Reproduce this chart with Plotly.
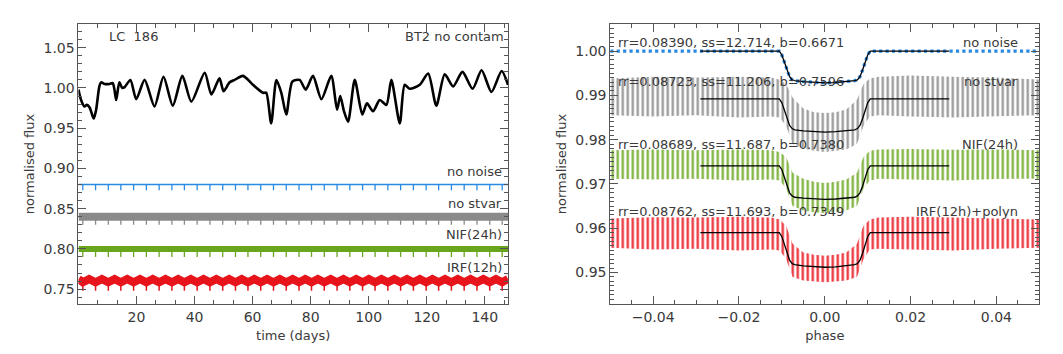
import plotly.graph_objects as go
from plotly.subplots import make_subplots

# ---- left panel: light curve LC 186 ----
# stellar variability
lc_time = [0.0, 0.9, 2.1, 2.9, 3.8, 4.9, 5.3, 6.1, 7.2, 7.8, 9.0, 10.7, 11.8, 12.4, 13.0,
           14.1, 15.1, 15.9, 17.9, 19.9, 22.8, 26.2, 29.3, 32.5, 35.8, 38.9, 43.5, 45.8,
           48.6, 50.0, 52.1, 53.8, 56.7, 60.1, 63.6, 64.7, 66.4, 68.2, 69.9, 71.6, 73.7,
           76.2, 78.3, 80.8, 83.7, 87.1, 89.1, 90.2, 91.5, 92.9, 95.2, 97.8, 99.4, 101.5,
           103.8, 106.1, 107.8, 110.7, 112.4, 114.1, 117.6, 120.5, 123.3, 126.2, 129.1,
           132.3, 135.8, 138.9, 142.3, 145.8, 148.0]
lc_flux = [0.998, 0.985, 0.977, 0.979, 0.976, 0.965, 0.962, 0.973, 1.002, 1.007, 1.005,
           1.005, 1.006, 0.998, 0.985, 1.007, 1.000, 1.001, 1.010, 0.986, 1.010, 0.977,
           1.014, 0.978, 1.015, 0.983, 1.019, 0.992, 1.012, 0.996, 1.007, 1.010, 1.015,
           1.004, 0.994, 0.994, 0.956, 1.010, 0.994, 0.967, 1.008, 1.010, 0.998, 1.015,
           0.986, 1.015, 0.973, 0.990, 0.971, 0.958, 1.010, 0.967, 0.981, 0.971, 0.985,
           0.979, 1.010, 0.956, 1.004, 0.999, 1.004, 1.018, 0.978, 1.017, 1.002, 1.020,
           0.999, 1.022, 0.995, 1.021, 1.004]

# transit epochs (ticks under the "no noise" line)
transit_times = [1.5, 5.9, 10.3, 14.6, 19.0, 23.4, 27.8, 32.2, 36.5, 40.9, 45.3, 49.7,
                 54.1, 58.4, 62.8, 67.2, 71.6, 76.0, 80.3, 84.7, 89.1, 93.5, 97.9, 102.2,
                 106.6, 111.0, 115.4, 119.8, 124.1, 128.5, 132.9, 137.3, 141.7, 146.0]

# offset series: level, bottom of transit spikes
nonoise_level, nonoise_dip = 0.880, 0.8728
nostvar_level, nostvar_dip = 0.840, 0.830
nif_level, nif_dip = 0.800, 0.790
irf_low, irf_high, irf_dip = 0.7585, 0.7625, 0.748

# ---- right panel: phase folded transits ----
env_phase = [-0.05, -0.04, -0.03, -0.02, -0.0125, -0.0105, -0.009, -0.0075, -0.005,
             -0.0025, 0.0, 0.0025, 0.005, 0.0075, 0.009, 0.0105, 0.0125, 0.02, 0.03,
             0.04, 0.05]
nostvar_top = [0.9938, 0.9942, 0.9940, 0.9942, 0.9940, 0.9935, 0.9925, 0.9895, 0.9870,
               0.9862, 0.9860, 0.9862, 0.9868, 0.9890, 0.9925, 0.9938, 0.9942, 0.9945,
               0.9942, 0.9940, 0.9936]
nostvar_bot = [0.9855, 0.9852, 0.9855, 0.9850, 0.9852, 0.9850, 0.9830, 0.9790, 0.9780,
               0.9775, 0.9772, 0.9775, 0.9778, 0.9790, 0.9830, 0.9852, 0.9855, 0.9852,
               0.9850, 0.9853, 0.9855]
nif_top = [0.9776, 0.9778, 0.9776, 0.9778, 0.9776, 0.9772, 0.9760, 0.9725, 0.9712,
           0.9705, 0.9702, 0.9705, 0.9710, 0.9725, 0.9760, 0.9775, 0.9778, 0.9779,
           0.9777, 0.9778, 0.9776]
nif_bot = [0.9712, 0.9710, 0.9712, 0.9708, 0.9710, 0.9708, 0.9690, 0.9650, 0.9640,
           0.9636, 0.9634, 0.9636, 0.9640, 0.9650, 0.9690, 0.9708, 0.9712, 0.9710,
           0.9708, 0.9711, 0.9712]
irf_top = [0.9622, 0.9625, 0.9624, 0.9626, 0.9624, 0.9620, 0.9605, 0.9565, 0.9545,
           0.9540, 0.9538, 0.9540, 0.9545, 0.9565, 0.9605, 0.9620, 0.9624, 0.9626,
           0.9624, 0.9622, 0.9620]
irf_bot = [0.9556, 0.9552, 0.9554, 0.9550, 0.9552, 0.9550, 0.9530, 0.9490, 0.9482,
           0.9480, 0.9478, 0.9480, 0.9482, 0.9490, 0.9530, 0.9552, 0.9554, 0.9552,
           0.9550, 0.9554, 0.9556]

model_phase = [-0.029, -0.0106, -0.0100, -0.0094, -0.0088, -0.0082, -0.0076, -0.0070,
               -0.005, -0.0025, 0.0, 0.0025, 0.005, 0.0070, 0.0076, 0.0082, 0.0088,
               0.0094, 0.0100, 0.0106, 0.029]
model_nonoise = [1.0, 1.0, 0.9991, 0.9975, 0.9957, 0.9942, 0.9935, 0.9933, 0.9931, 0.9929,
                 0.9928, 0.9929, 0.9931, 0.9933, 0.9935, 0.9942, 0.9957, 0.9975, 0.9991,
                 1.0, 1.0]
model_nostvar = [0.9892, 0.9892, 0.9883, 0.9866, 0.9847, 0.9832, 0.9825, 0.9822, 0.9820,
                 0.9818, 0.9817, 0.9818, 0.9820, 0.9822, 0.9825, 0.9832, 0.9847, 0.9866,
                 0.9883, 0.9892, 0.9892]
model_nif = [0.9741, 0.9741, 0.9732, 0.9715, 0.9695, 0.9680, 0.9673, 0.9670, 0.9668,
             0.9666, 0.9665, 0.9666, 0.9668, 0.9670, 0.9673, 0.9680, 0.9695, 0.9715,
             0.9732, 0.9741, 0.9741]
model_irf = [0.9590, 0.9590, 0.9581, 0.9563, 0.9543, 0.9528, 0.9520, 0.9518, 0.9515,
             0.9513, 0.9512, 0.9513, 0.9515, 0.9518, 0.9520, 0.9528, 0.9543, 0.9563,
             0.9581, 0.9590, 0.9590]

fit_labels = ["rr=0.08390, ss=12.714, b=0.6671", "rr=0.08723, ss=11.206, b=0.7596",
              "rr=0.08689, ss=11.687, b=0.7380", "rr=0.08762, ss=11.693, b=0.7349"]
fit_names = ["no noise", "no stvar", "NIF(24h)", "IRF(12h)+polyn"]
fit_label_y = [1.0019, 0.9931, 0.9789, 0.9637]

BLUE = "#2a8ae0"
GRAY = "#8a8a8a"
GREEN = "#6aa51e"
RED = "#e8141c"
TXT = "#3a3a3a"
AX = "#555555"
FONT = "DejaVu Sans"

fig = make_subplots(rows=1, cols=2)


def spikes(times, top, bottom):
    xs, ys = [], []
    for t in times:
        xs += [t, t, None]
        ys += [top, bottom, None]
    return xs, ys


# left panel
fig.add_trace(go.Scatter(x=lc_time, y=lc_flux, mode="lines", line=dict(color="black", width=2.6,
                         shape="spline", smoothing=0.7), hoverinfo="skip"), row=1, col=1)

fig.add_trace(go.Scatter(x=[0, 148], y=[nonoise_level] * 2, mode="lines",
                         line=dict(color=BLUE, width=1.5)), row=1, col=1)
sx, sy = spikes(transit_times, nonoise_level, nonoise_dip)
fig.add_trace(go.Scatter(x=sx, y=sy, mode="lines", line=dict(color=BLUE, width=1.3)), row=1, col=1)

fig.add_trace(go.Scatter(x=[0, 148], y=[nostvar_level] * 2, mode="lines",
                         line=dict(color=GRAY, width=8)), row=1, col=1)
sx, sy = spikes(transit_times, nostvar_level, nostvar_dip)
fig.add_trace(go.Scatter(x=sx, y=sy, mode="lines", line=dict(color=GRAY, width=1.3)), row=1, col=1)

fig.add_trace(go.Scatter(x=[0, 148], y=[nif_level] * 2, mode="lines",
                         line=dict(color=GREEN, width=6)), row=1, col=1)
sx, sy = spikes(transit_times, nif_level, nif_dip)
fig.add_trace(go.Scatter(x=sx, y=sy, mode="lines", line=dict(color=GREEN, width=1.3)), row=1, col=1)

# IRF zigzag: low at each transit, high half way between
zx, zy = [0.0], [irf_high]
for i, t in enumerate(transit_times):
    zx.append(t)
    zy.append(irf_low)
    if i + 1 < len(transit_times):
        zx.append((t + transit_times[i + 1]) / 2)
    else:
        zx.append(148.0)
    zy.append(irf_high)
fig.add_trace(go.Scatter(x=zx, y=zy, mode="lines", line=dict(color=RED, width=8)), row=1, col=1)
sx, sy = spikes(transit_times, irf_low, irf_dip)
fig.add_trace(go.Scatter(x=sx, y=sy, mode="lines", line=dict(color=RED, width=1.5)), row=1, col=1)

# right panel: scatter envelopes drawn as vertical stripe pattern
for top, bot, col in [(nostvar_top, nostvar_bot, GRAY), (nif_top, nif_bot, GREEN),
                      (irf_top, irf_bot, RED)]:
    fig.add_trace(go.Scatter(x=env_phase, y=bot, mode="lines", line=dict(width=0),
                             hoverinfo="skip"), row=1, col=2)
    fig.add_trace(go.Scatter(x=env_phase, y=top, mode="lines", line=dict(width=0),
                             fill="tonexty", fillcolor="rgba(0,0,0,0)",
                             fillpattern=dict(shape="|", size=5, solidity=0.45, fgcolor=col,
                                              fgopacity=0.9, bgcolor="rgba(0,0,0,0)")),
                  row=1, col=2)

# no noise: blue dotted
fig.add_trace(go.Scatter(x=[-0.05] + model_phase + [0.05],
                         y=[model_nonoise[0]] + model_nonoise + [model_nonoise[-1]],
                         mode="lines", line=dict(color=BLUE, width=3.2, dash="dot")), row=1, col=2)

for m in [model_nonoise, model_nostvar, model_nif, model_irf]:
    fig.add_trace(go.Scatter(x=model_phase, y=m, mode="lines",
                             line=dict(color="black", width=1.3)), row=1, col=2)

# text labels
lfont = dict(family=FONT, size=13, color=TXT)
fig.add_annotation(x=9.8, y=1.0645, text="LC  186", showarrow=False, xanchor="left",
                   font=lfont, xref="x", yref="y")
fig.add_annotation(x=147.3, y=1.0645, text="BT2 no contam", showarrow=False, xanchor="right",
                   font=lfont, xref="x", yref="y")
for txt, yy in [("no noise", 0.896), ("no stvar", 0.857), ("NIF(24h)", 0.818),
                ("IRF(12h)", 0.777)]:
    fig.add_annotation(x=146.5, y=yy, text=txt, showarrow=False, xanchor="right",
                       font=lfont, xref="x", yref="y")
for lab, name, yy in zip(fit_labels, fit_names, fit_label_y):
    fig.add_annotation(x=-0.0487, y=yy, text=lab, showarrow=False, xanchor="left",
                       font=lfont, xref="x2", yref="y2")
    fig.add_annotation(x=0.0455, y=yy, text=name, showarrow=False, xanchor="right",
                       font=lfont, xref="x2", yref="y2")

axis_common = dict(showline=True, linecolor=AX, linewidth=1, mirror="allticks",
                   ticks="inside", ticklen=8, tickcolor=AX, showgrid=False, zeroline=False,
                   tickfont=dict(family=FONT, size=14, color=TXT),
                   title_font=dict(family=FONT, size=13, color=TXT))

fig.update_xaxes(axis_common)
fig.update_yaxes(axis_common)

fig.update_xaxes(range=[0, 148], domain=[0.0738, 0.4779],
                 tickvals=[20, 40, 60, 80, 100, 120, 140],
                 minor=dict(dtick=20 / 3, tick0=0, ticklen=4, ticks="inside", tickcolor=AX),
                 title_text="time (days)", title_standoff=7, row=1, col=1)
fig.update_yaxes(range=[0.7315, 1.0795], tickvals=[0.75, 0.80, 0.85, 0.90, 0.95, 1.00, 1.05],
                 ticktext=["0.75", "0.80", "0.85", "0.90", "0.95", "1.00", "1.05"],
                 minor=dict(dtick=0.01, tick0=0, ticklen=4, ticks="inside", tickcolor=AX),
                 title_text="normalised flux", title_standoff=5, row=1, col=1)
fig.update_xaxes(range=[-0.05, 0.05], domain=[0.5741, 0.9777],
                 tickvals=[-0.04, -0.02, 0.0, 0.02, 0.04],
                 ticktext=["\u22120.04", "\u22120.02", "0.00", "0.02", "0.04"],
                 minor=dict(dtick=0.005, tick0=0, ticklen=4, ticks="inside", tickcolor=AX),
                 title_text="phase", title_standoff=7, row=1, col=2)
fig.update_yaxes(range=[0.9429, 1.0061], tickvals=[0.95, 0.96, 0.97, 0.98, 0.99, 1.00],
                 ticktext=["0.95", "0.96", "0.97", "0.98", "0.99", "1.00"],
                 minor=dict(dtick=0.001, tick0=0, ticklen=4, ticks="inside", tickcolor=AX),
                 title_text="normalised flux", title_standoff=5, row=1, col=2)
fig.update_yaxes(domain=[0.1412, 0.9322])

fig.update_layout(width=1063, height=354, margin=dict(l=0, r=0, t=0, b=0),
                  paper_bgcolor="white", plot_bgcolor="white", showlegend=False)

fig.write_html("out.html", config={"displayModeBar": False},
               post_script="document.body.style.margin='0';document.body.style.overflow='hidden';")
